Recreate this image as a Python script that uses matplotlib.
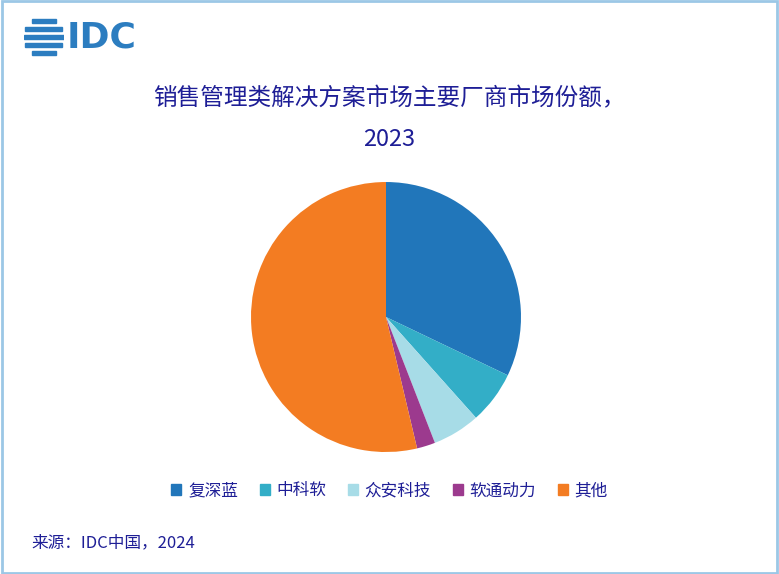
import matplotlib
matplotlib.use("Agg")
import matplotlib.pyplot as plt
from matplotlib.patches import Rectangle
import numpy as np

plt.rcParams['font.family'] = ['Noto Sans CJK SC', 'DejaVu Sans']

labels = ['复深蓝', '中科软', '众安科技', '软通动力', '其他']
values = [32.1, 6.3, 5.7, 2.2, 53.7]
colors = ['#2176BA', '#33AEC7', '#A7DCE7', '#9C3A8E', '#F37C22']
title = '销售管理类解决方案市场主要厂商市场份额，\n2023'
source = '来源：IDC中国，2024'

fig = plt.figure(figsize=(7.79, 5.74), dpi=100)
fig.patches.append(Rectangle((0.002, 0.002), 0.996, 0.996, transform=fig.transFigure,
                             fill=False, edgecolor='#9CC7E6', linewidth=2))

ax = fig.add_axes([0.3222, 0.2125, 0.3466, 0.4704])
ax.pie(values, colors=colors, startangle=90, counterclock=False,
       wedgeprops=dict(linewidth=0))
ax.set_xlim(-1, 1); ax.set_ylim(-1, 1)
ax.set_aspect('equal')

fig.text(0.5, 0.792, title, ha='center', va='center', fontsize=17,
         color='#1E1E96', linespacing=2.0)

lax = fig.add_axes([0, 0.115, 1, 0.06]); lax.axis('off')
handles = [Rectangle((0, 0), 1, 1, color=c) for c in colors]
lax.legend(handles, labels, loc='center', ncol=5, frameon=False, fontsize=12,
           handlelength=0.6, handleheight=0.6, handletextpad=0.4, columnspacing=1.3,
           labelcolor='#1E1E96', bbox_to_anchor=(0.5, 0.5))

fig.text(0.04, 0.054, source, fontsize=12, color='#1E1E96', va='center')

logo = fig.add_axes([0.03, 0.9, 0.052, 0.07]); logo.axis('off')
logo.set_xlim(-1, 1); logo.set_ylim(-1, 1); logo.set_aspect('equal')
for y in np.linspace(-0.8, 0.8, 5):
    w = np.sqrt(max(1 - y**2, 0))
    logo.add_patch(Rectangle((-w, y - 0.1), 2 * w, 0.2, color='#2C7DC0'))
fig.text(0.085, 0.935, 'IDC', fontsize=26, color='#2C7DC0', va='center',
         family='DejaVu Sans', fontweight='bold')

fig.savefig('out.png', dpi=100)
